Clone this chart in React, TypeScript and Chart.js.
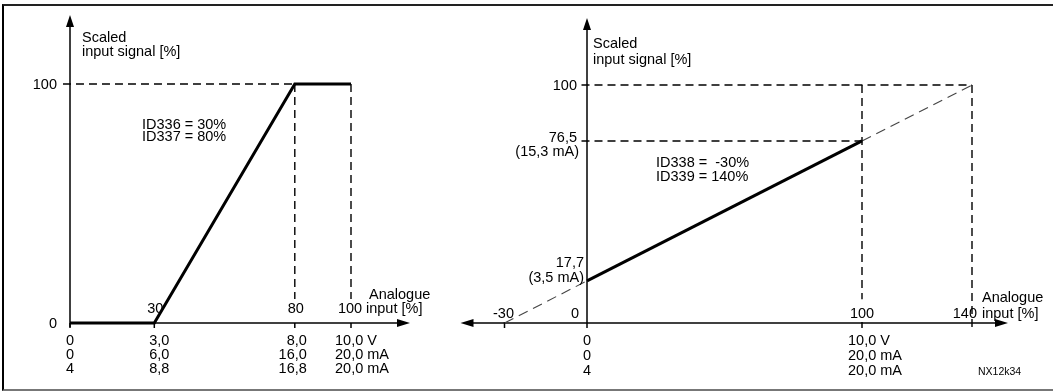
import React, { useEffect, useRef } from "react";
import { Chart, registerables } from "chart.js";
Chart.register(...registerables);

// ---------- data: left panel ----------
const leftXTicks = [0, 30, 80, 100];
const leftTopTickLabels = ["", "30", "80", "100"];
const leftVoltRow = ["0", "3,0", "8,0", "10,0 V"];
const leftCurrentRow = ["0", "6,0", "16,0", "20,0 mA"];
const leftLiveZeroRow = ["4", "8,8", "16,8", "20,0 mA"];
const leftYTicks = [0, 100];
const leftYTickLabels = ["0", "100"];
const leftCurve = [
  { x: 0, y: 0 },
  { x: 30, y: 0 },
  { x: 80, y: 100 },
  { x: 100, y: 100 },
];
const leftGuideH100 = [{ x: -2.5, y: 100 }, { x: 80, y: 100 }];
const leftGuideV80 = [{ x: 80, y: 100 }, { x: 80, y: 10 }];
const leftGuideV100 = [{ x: 100, y: 100 }, { x: 100, y: 10 }];
const leftParams = ["ID336 = 30%", "ID337 = 80%"];

// ---------- data: right panel ----------
const rightXTicks = [-30, 0, 100, 140];
const rightTopTickLabels = ["-30", "0", "100", "140"];
const rightBottomTicks = [0, 100];
const rightVoltRow = ["0", "10,0 V"];
const rightCurrentRow = ["0", "20,0 mA"];
const rightLiveZeroRow = ["4", "20,0 mA"];
const rightCurve = [{ x: 0, y: 17.7 }, { x: 100, y: 76.5 }];
const rightExtLow = [{ x: -30, y: 0 }, { x: 0, y: 17.7 }];
const rightExtHigh = [{ x: 100, y: 76.5 }, { x: 140, y: 100 }];
const rightGuideH100 = [{ x: -2, y: 100 }, { x: 140, y: 100 }];
const rightGuideH765 = [{ x: -2, y: 76.5 }, { x: 100, y: 76.5 }];
const rightGuideV100 = [{ x: 100, y: 100 }, { x: 100, y: 10 }];
const rightGuideV140 = [{ x: 140, y: 100 }, { x: 140, y: -2 }];
const rightParams = ["ID338 =  -30%", "ID339 = 140%"];
const figureCode = "NX12k34";

const FONT = '14.5px "Liberation Sans", Arial, Helvetica, sans-serif';
const SMALL_FONT = '10.5px "Liberation Sans", Arial, Helvetica, sans-serif';

function seg(ctx: any, x1: number, y1: number, x2: number, y2: number) {
  ctx.beginPath();
  ctx.moveTo(x1, y1);
  ctx.lineTo(x2, y2);
  ctx.stroke();
}
function txt(ctx: any, s: string, x: number, y: number, align: string = "left", font: string = FONT) {
  ctx.font = font;
  ctx.textAlign = align;
  ctx.textBaseline = "alphabetic";
  ctx.fillStyle = "#000";
  ctx.fillText(s, x, y);
}
function head(ctx: any, tx: number, ty: number, dir: string) {
  ctx.beginPath();
  ctx.moveTo(tx, ty);
  if (dir === "up") {
    ctx.lineTo(tx - 4, ty + 12);
    ctx.lineTo(tx + 4, ty + 12);
  } else if (dir === "right") {
    ctx.lineTo(tx - 13, ty - 4);
    ctx.lineTo(tx - 13, ty + 4);
  } else {
    ctx.lineTo(tx + 13, ty - 4);
    ctx.lineTo(tx + 13, ty + 4);
  }
  ctx.closePath();
  ctx.fillStyle = "#000";
  ctx.fill();
}

const guide = (data: any[]) => ({
  data,
  showLine: true,
  borderColor: "#000",
  borderWidth: 1.4,
  borderDash: [8, 5],
  pointRadius: 0,
  clip: false,
});
const solid = (data: any[]) => ({
  data,
  showLine: true,
  borderColor: "#000",
  borderWidth: 3,
  pointRadius: 0,
  clip: false,
  borderCapStyle: "butt",
});
const thinDash = (data: any[]) => ({
  data,
  showLine: true,
  borderColor: "#444",
  borderWidth: 1.1,
  borderDash: [10, 6],
  pointRadius: 0,
  clip: false,
});

const leftDecor = {
  id: "leftDecor",
  beforeDatasetsDraw(chart: any) {
    const { ctx, scales } = chart;
    const xs = scales.x, ys = scales.y;
    const X0 = xs.getPixelForValue(0), Y0 = ys.getPixelForValue(0);
    ctx.save();
    ctx.strokeStyle = "#000";
    ctx.lineWidth = 1.5;
    seg(ctx, X0, Y0 + 4, X0, 26);
    head(ctx, X0, 15, "up");
    const xEnd = xs.getPixelForValue(100) + 59;
    seg(ctx, X0, Y0, xEnd - 12, Y0);
    head(ctx, xEnd, Y0, "right");
    leftXTicks.forEach((t) => {
      const px = xs.getPixelForValue(t);
      seg(ctx, px, Y0, px, Y0 + 5);
    });
    ctx.restore();
  },
  afterDatasetsDraw(chart: any) {
    const { ctx, scales } = chart;
    const xs = scales.x, ys = scales.y;
    const X0 = xs.getPixelForValue(0), Y0 = ys.getPixelForValue(0);
    const Y100 = ys.getPixelForValue(100);
    ctx.save();
    txt(ctx, "Scaled", X0 + 12, 42);
    txt(ctx, "input signal [%]", X0 + 12, 56);
    leftYTicks.forEach((v, i) => txt(ctx, leftYTickLabels[i], X0 - 13, ys.getPixelForValue(v) + 5, "right"));
    txt(ctx, leftParams[0], X0 + 72, Y100 + 45);
    txt(ctx, leftParams[1], X0 + 72, Y100 + 57);
    leftXTicks.forEach((t, i) => {
      if (leftTopTickLabels[i]) txt(ctx, leftTopTickLabels[i], xs.getPixelForValue(t) + (i === 3 ? -1 : 1), Y0 - 10, "center");
    });
    const X100 = xs.getPixelForValue(100);
    txt(ctx, "Analogue", X100 + 18, Y0 - 24);
    txt(ctx, "input [%]", X100 + 15, Y0 - 10);
    const cols = [
      { align: "center", dx: 0 },
      { align: "center", dx: 5 },
      { align: "right", dx: 12 },
      { align: "left", dx: -16 },
    ];
    const rows = [leftVoltRow, leftCurrentRow, leftLiveZeroRow];
    const rowY = [22, 36, 50];
    rows.forEach((row, r) =>
      row.forEach((s, c) =>
        txt(ctx, s, xs.getPixelForValue(leftXTicks[c]) + cols[c].dx, Y0 + rowY[r], cols[c].align)
      )
    );
    ctx.restore();
  },
};

const rightDecor = {
  id: "rightDecor",
  beforeDatasetsDraw(chart: any) {
    const { ctx, scales } = chart;
    const xs = scales.x, ys = scales.y;
    const X0 = xs.getPixelForValue(0), Y0 = ys.getPixelForValue(0);
    ctx.save();
    ctx.strokeStyle = "#000";
    ctx.lineWidth = 1.5;
    seg(ctx, X0, Y0 + 5, X0, 29);
    head(ctx, X0, 18, "up");
    const xL = xs.getPixelForValue(-30) - 44;
    const xR = xs.getPixelForValue(140) + 36;
    seg(ctx, xL + 12, Y0, xR - 12, Y0);
    head(ctx, xL, Y0, "left");
    head(ctx, xR, Y0, "right");
    [-30, 100].forEach((t) => {
      const px = xs.getPixelForValue(t);
      seg(ctx, px, Y0 - 1, px, Y0 + 5);
    });
    ctx.restore();
  },
  afterDatasetsDraw(chart: any) {
    const { ctx, scales } = chart;
    const xs = scales.x, ys = scales.y;
    const X0 = xs.getPixelForValue(0), Y0 = ys.getPixelForValue(0);
    ctx.save();
    txt(ctx, "Scaled", X0 + 6, 48);
    txt(ctx, "input signal [%]", X0 + 6, 64);
    txt(ctx, "100", X0 - 10, ys.getPixelForValue(100) + 5, "right");
    const y765 = ys.getPixelForValue(76.5);
    txt(ctx, "76,5", X0 - 10, y765 + 1, "right");
    txt(ctx, "(15,3 mA)", X0 - 8, y765 + 15, "right");
    const y177 = ys.getPixelForValue(17.7);
    txt(ctx, "17,7", X0 - 3, y177 - 14, "right");
    txt(ctx, "(3,5 mA)", X0 - 3, y177 + 1, "right");
    txt(ctx, rightParams[0], X0 + 69, 167);
    txt(ctx, rightParams[1], X0 + 69, 181);
    const tickPos = [
      { dx: -1, align: "center" },
      { dx: -12, align: "center" },
      { dx: 0, align: "center" },
      { dx: 5, align: "right" },
    ];
    rightXTicks.forEach((t, i) =>
      txt(ctx, rightTopTickLabels[i], xs.getPixelForValue(t) + tickPos[i].dx, Y0 - 5, tickPos[i].align)
    );
    const X140 = xs.getPixelForValue(140);
    txt(ctx, "Analogue", X140 + 10, Y0 - 21);
    txt(ctx, "input [%]", X140 + 10, Y0 - 5);
    const cols = [
      { align: "center", dx: 0 },
      { align: "left", dx: -14 },
    ];
    const rows = [rightVoltRow, rightCurrentRow, rightLiveZeroRow];
    const rowY = [22, 37, 52];
    rows.forEach((row, r) =>
      row.forEach((s, c) =>
        txt(ctx, s, xs.getPixelForValue(rightBottomTicks[c]) + cols[c].dx, Y0 + rowY[r], cols[c].align)
      )
    );
    txt(ctx, figureCode, 538, 375, "left", SMALL_FONT);
    ctx.restore();
  },
};

function baseOptions(padding: any) {
  return {
    responsive: false,
    maintainAspectRatio: false,
    animation: false as const,
    devicePixelRatio: 1,
    layout: { padding },
    plugins: { legend: { display: false }, tooltip: { enabled: false }, title: { display: false } },
    events: [],
    scales: {
      x: { type: "linear", min: 0, max: 100, display: false },
      y: { type: "linear", min: 0, max: 100, display: false },
    },
  };
}

export default function App() {
  const leftRef = useRef<HTMLCanvasElement>(null);
  const rightRef = useRef<HTMLCanvasElement>(null);

  useEffect(() => {
    const left = new Chart(leftRef.current as HTMLCanvasElement, {
      type: "scatter",
      data: {
        datasets: [
          guide(leftGuideH100),
          guide(leftGuideV80),
          guide(leftGuideV100),
          solid(leftCurve),
        ] as any,
      },
      options: baseOptions({ left: 70, right: 89, top: 84, bottom: 68 }) as any,
      plugins: [leftDecor],
    });
    const right = new Chart(rightRef.current as HTMLCanvasElement, {
      type: "scatter",
      data: {
        datasets: [
          guide(rightGuideH100),
          guide(rightGuideH765),
          guide(rightGuideV100),
          guide(rightGuideV140),
          thinDash(rightExtLow),
          thinDash(rightExtHigh),
          solid(rightCurve),
        ] as any,
      },
      options: baseOptions({ left: 147, right: 191, top: 85, bottom: 68 }) as any,
      plugins: [rightDecor],
    });
    return () => {
      left.destroy();
      right.destroy();
    };
  }, []);

  return (
    <div style={{ position: "absolute", left: 0, top: 0, width: 1053, height: 391, background: "#fff", overflow: "hidden" }}>
      <div
        style={{
          position: "absolute",
          left: 2,
          top: 4,
          width: 1051,
          height: 387,
          boxSizing: "border-box",
          borderTop: "2px solid #222",
          borderLeft: "2px solid #000",
          borderBottom: "2px solid #777",
        }}
      />
      <canvas ref={leftRef} width={440} height={391} style={{ position: "absolute", left: 0, top: 0, width: 440, height: 391 }} />
      <canvas ref={rightRef} width={613} height={391} style={{ position: "absolute", left: 440, top: 0, width: 613, height: 391 }} />
    </div>
  );
}
